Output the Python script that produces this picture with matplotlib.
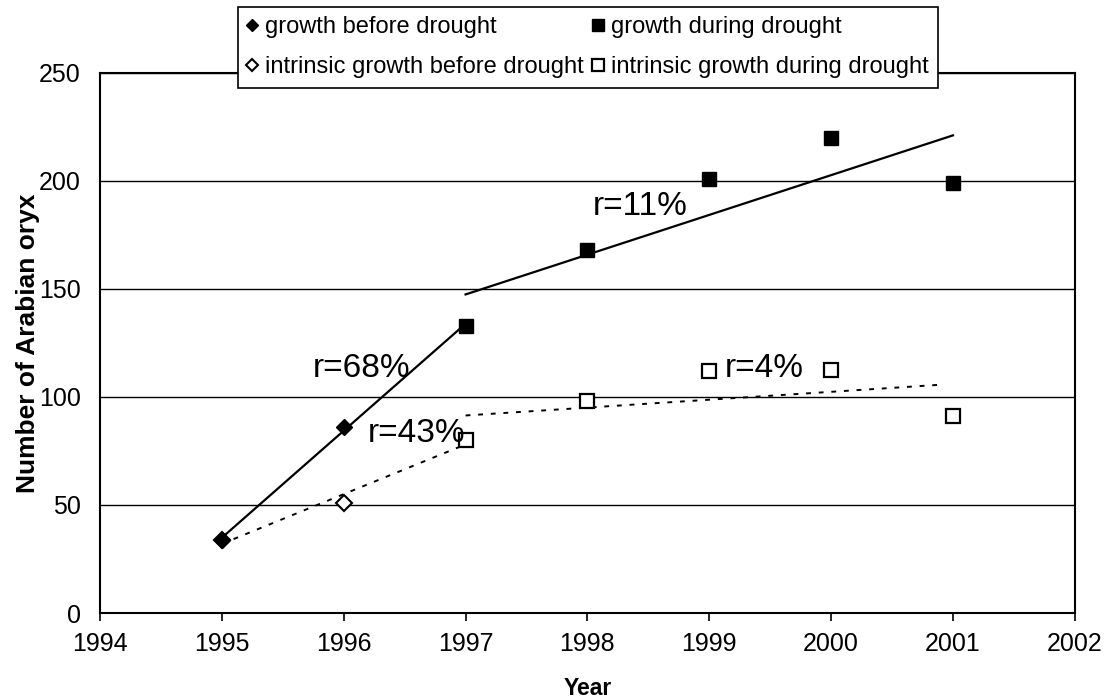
import numpy as np
import matplotlib
matplotlib.use("Agg")
import matplotlib.pyplot as plt

plt.rcParams['font.family'] = ['Liberation Sans', 'DejaVu Sans']

# data
years_before = [1995, 1996, 1997]
growth_before = [34, 86, 133]
intrinsic_before = [34, 51, 80]

years_during = [1997, 1998, 1999, 2000, 2001]
growth_during = [133, 168, 201, 220, 199]
intrinsic_during = [80, 98, 112, 112.5, 91]

labels = ['growth before drought', 'intrinsic growth before drought',
          'growth during drought', 'intrinsic growth during drought']


def lin_fit(x, y, xs):
    return np.polyval(np.polyfit(x, y, 1), xs)


fig = plt.figure(figsize=(11.16, 6.99), dpi=100)
ax = fig.add_axes([0.0896, 0.123, 0.8735, 0.773])

# trend lines
dots = (0, (2.5, 4))
xb = np.array([1995, 1997])
ax.plot(xb, lin_fit(years_before, growth_before, xb), color='black', lw=1.6, zorder=2)
ax.plot(xb, lin_fit(years_before, intrinsic_before, xb), color='black', lw=1.4,
        ls=dots, zorder=2)
xd = np.array([1997, 2001])
ax.plot(xd, lin_fit(years_during, growth_during, xd), color='black', lw=1.6, zorder=2)
xd2 = np.array([1997, 2000.9])
ax.plot(xd2, lin_fit(years_during, intrinsic_during, xd2), color='black', lw=1.4,
        ls=dots, zorder=2)

# points
h2, = ax.plot(years_before[:2], intrinsic_before[:2], 'D', ms=8, mfc='white', mec='black',
              mew=1.5, ls='none', zorder=3)
h1, = ax.plot(years_before[:2], growth_before[:2], 'D', ms=8, color='black', ls='none', zorder=4)
h4, = ax.plot(years_during, intrinsic_during, 's', ms=10, mfc='white', mec='black',
              mew=1.6, ls='none', zorder=3)
h3, = ax.plot(years_during, growth_during, 's', ms=10.5, color='black', ls='none', zorder=4)

ax.text(1998.04, 184, 'r=11%', fontsize=24)
ax.text(1995.75, 109, 'r=68%', fontsize=24)
ax.text(1996.2, 79, 'r=43%', fontsize=24)
ax.text(1999.13, 109, 'r=4%', fontsize=24)

ax.set_xlim(1994, 2002)
ax.set_ylim(0, 250)
ax.set_xticks(range(1994, 2003))
ax.set_yticks(range(0, 251, 50))
ax.yaxis.grid(True, color='black', lw=1)
ax.set_axisbelow(True)
for s in ax.spines.values():
    s.set_linewidth(1.5)
ax.tick_params(labelsize=18, length=6, width=1.2, direction='out', pad=8)
ax.tick_params(axis='y', length=0, pad=14)
ax.set_xlabel('Year', fontsize=16.5, fontweight='bold', va='baseline')
ax.set_ylabel('Number of Arabian oryx', fontsize=19, fontweight='bold')
ax.yaxis.set_label_coords(-0.062, 0.5)
ax.xaxis.set_label_coords(0.5, -0.151)

leg = fig.legend([h1, h2, h3, h4], labels, ncol=2, loc='upper left',
                 bbox_to_anchor=(0.213, 0.99), borderaxespad=0, fontsize=17,
                 frameon=True, fancybox=False, edgecolor='black', framealpha=1,
                 handlelength=0.45, handletextpad=0.3, columnspacing=0.4,
                 borderpad=0.4, labelspacing=0.75, markerscale=0.8)
leg.get_frame().set_linewidth(1.2)

fig.savefig('out.png', dpi=100)
